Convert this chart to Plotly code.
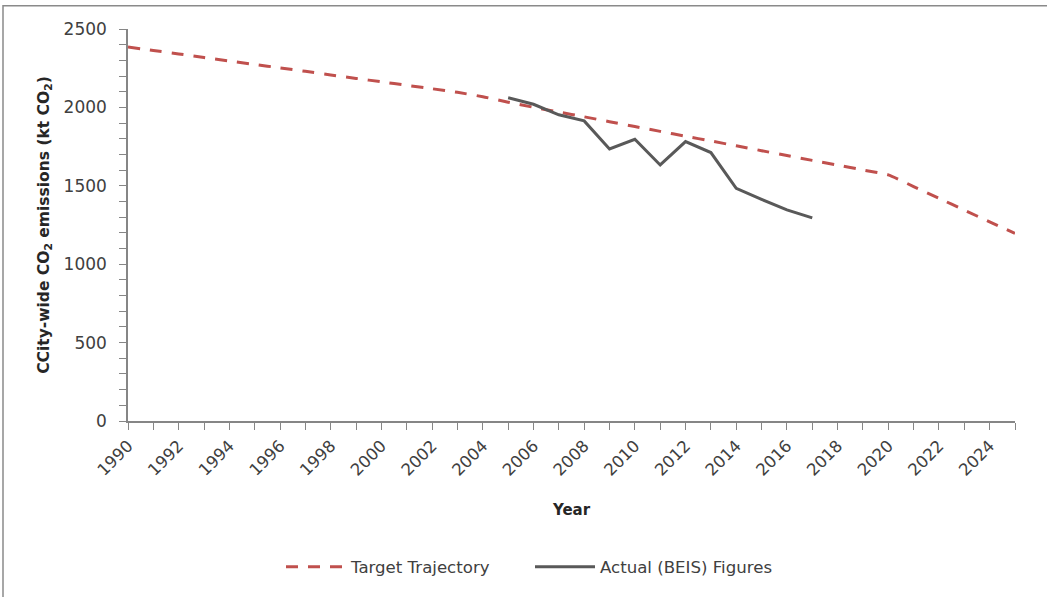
import plotly.graph_objects as go

target_years = list(range(1990, 2026))
target_values = [2385, 2363, 2341, 2318, 2296, 2274, 2252, 2230, 2207, 2185,
                 2163, 2141, 2119, 2096, 2068, 2033, 2001, 1970, 1940, 1909,
                 1878, 1847, 1816, 1786, 1755, 1724, 1693, 1662, 1632, 1601,
                 1570, 1495, 1420, 1345, 1270, 1197]

actual_years = list(range(2005, 2018))
actual_values = [2062, 2020, 1953, 1914, 1735, 1797, 1633, 1782, 1712, 1484,
                 1413, 1346, 1295]

series_names = ["Target Trajectory", "Actual (BEIS) Figures"]

FONT = "DejaVu Sans"
TXT = "#404040"
AX = "#868686"

L, T = 128, 29.3
PLOT_W = 1015 - 128
PLOT_H = 420.7 - 29.3

fig = go.Figure()
fig.add_trace(go.Scatter(
    x=target_years, y=target_values, name=series_names[0], mode="lines",
    line=dict(color="#C0504D", width=3, dash="12px,10px", shape="spline", smoothing=0.5),
))
fig.add_trace(go.Scatter(
    x=actual_years, y=actual_values, name=series_names[1], mode="lines",
    line=dict(color="#595959", width=3),
))

fig.update_layout(
    width=1047, height=597,
    margin=dict(l=L, r=1047 - L - PLOT_W, t=T, b=597 - T - PLOT_H),
    paper_bgcolor="white", plot_bgcolor="white",
    font=dict(family=FONT, color=TXT, size=16),
    showlegend=True,
    legend=dict(orientation="h", xref="container", yref="container",
                x=281 / 1047, xanchor="left", y=1 - 567 / 597, yanchor="middle",
                itemwidth=60, entrywidth=174, entrywidthmode="pixels",
                font=dict(family=FONT, size=16.6, color=TXT)),
    shapes=[dict(type="rect", xref="paper", yref="paper",
                 x0=(3 - 128) / PLOT_W, x1=(1070 - 128) / PLOT_W,
                 y0=(420.7 - 620) / PLOT_H, y1=(420.7 - 6) / PLOT_H,
                 line=dict(color="#8a8a8a", width=1.5), layer="below")],
)

fig.update_xaxes(
    range=[1990, 2025], tick0=1990, dtick=2, tickangle=-45,
    showgrid=False, zeroline=False, showline=True, linecolor=AX, linewidth=1.5,
    ticks="outside", ticklen=7, tickcolor=AX, tickwidth=1,
    tickfont=dict(family=FONT, size=16.5, color=TXT),
    minor=dict(dtick=1, tick0=1990, ticks="outside", ticklen=7, tickcolor=AX, showgrid=False),
    title=dict(text="<b>Year</b>", font=dict(family=FONT, size=15, color="#262626"), standoff=26),
    automargin=False,
)
fig.update_yaxes(
    range=[0, 2500], dtick=500, tick0=0,
    showgrid=False, zeroline=False, showline=True, linecolor=AX, linewidth=1.5,
    ticks="outside", ticklen=7, tickcolor=AX, tickwidth=1,
    tickfont=dict(family=FONT, size=17, color=TXT),
    ticklabelstandoff=9,
    minor=dict(dtick=100, ticks="outside", ticklen=7, tickcolor=AX, showgrid=False),
    title=dict(text="<b>CCity-wide CO<sub>2</sub> emissions (kt CO<sub>2</sub>)</b>",
               font=dict(family=FONT, size=15.5, color="#262626"), standoff=10),
    automargin=False,
)

fig.write_html("out.html", config={"displayModeBar": False},
               post_script="document.body.style.margin='0';")
